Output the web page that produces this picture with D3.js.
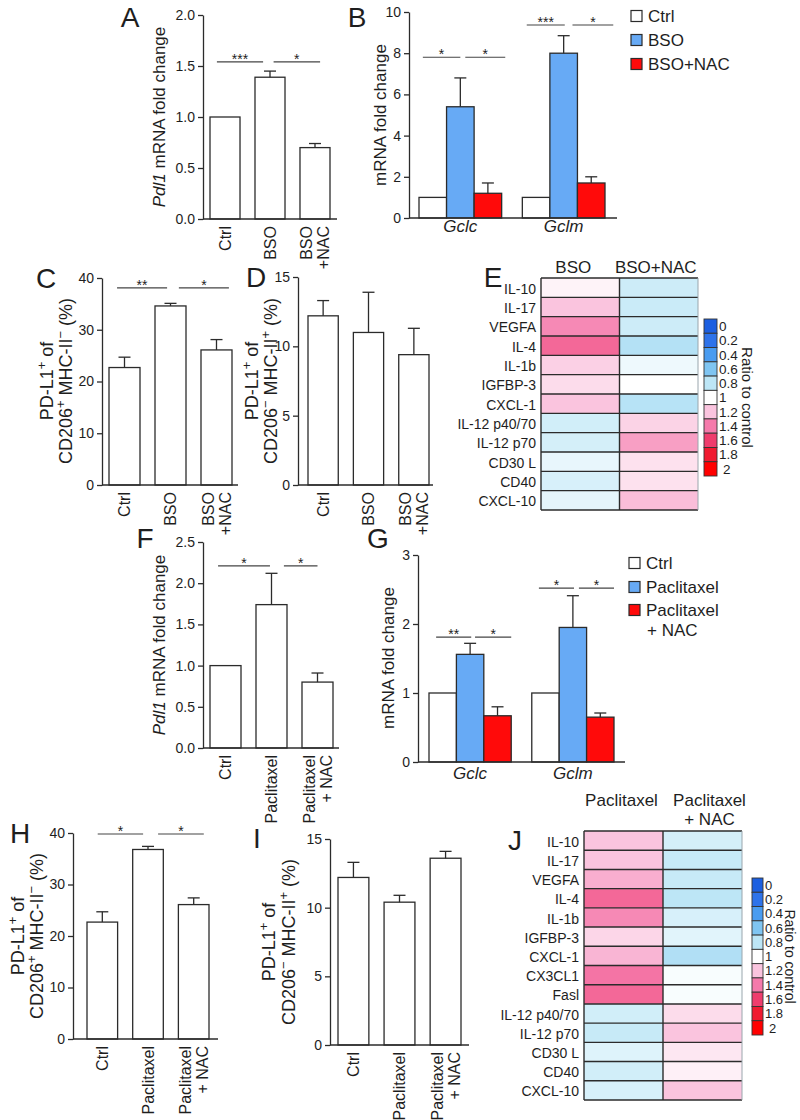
<!DOCTYPE html>
<html><head><meta charset="utf-8">
<script src="https://cdn.jsdelivr.net/npm/d3@7"></script>
<style>
body{margin:0;background:#fff}
svg{display:block}
text{font-family:"Liberation Sans",Arial,Helvetica,sans-serif;fill:#1e1e1e}
</style>
</head><body>
<svg id="fig" width="800" height="1120"></svg>
<script>
// ---------------- DATA ----------------
// Panel A
const aCats = ["Ctrl", "BSO", "BSO\n+NAC"];
const aVals = [1.0, 1.39, 0.70];
const aErrs = [0, 0.06, 0.04];
const aTicks = [0, 0.5, 1.0, 1.5, 2.0];
const aSig = [[0, 1, "***", 1.54], [1, 2, "*", 1.54]];

// Panel B
const bGenes = ["Gclc", "Gclm"];
const bGroups = ["Ctrl", "BSO", "BSO+NAC"];
const bVals = [[1.0, 5.4, 1.2], [1.0, 8.0, 1.7]];
const bErrs = [[0, 1.4, 0.5], [0, 0.85, 0.3]];
const bTicks = [0, 2, 4, 6, 8, 10];
const bSig = [[0, 0, 1, "*", 7.8], [0, 1, 2, "*", 7.8], [1, 0, 1, "***", 9.37], [1, 1, 2, "*", 9.37]];

// Panel C
const cCats = ["Ctrl", "BSO", "BSO\n+NAC"];
const cVals = [22.7, 34.6, 26.1];
const cErrs = [2.0, 0.5, 2.0];
const cTicks = [0, 10, 20, 30, 40];
const cSig = [[0, 1, "**", 38.1], [1, 2, "*", 38.1]];

// Panel D
const dCats = ["Ctrl", "BSO", "BSO\n+NAC"];
const dVals = [12.2, 11.0, 9.4];
const dErrs = [1.1, 2.9, 1.9];
const dTicks = [0, 5, 10, 15];

// Panel E
const eRows = ["IL-10", "IL-17", "VEGFA", "IL-4", "IL-1b", "IGFBP-3", "CXCL-1", "IL-12 p40/70", "IL-12 p70", "CD30 L", "CD40", "CXCL-10"];
const eCols = ["BSO", "BSO+NAC"];
const eBSO = [1.04, 1.2, 1.36, 1.46, 1.16, 1.12, 1.2, 0.86, 0.87, 0.93, 0.88, 0.92];
const eBSONAC = [0.85, 0.84, 0.85, 0.77, 0.95, 1.0, 0.78, 1.15, 1.3, 1.1, 1.1, 1.22];

// Colour bar
const scaleStops = [0, 0.2, 0.4, 0.6, 0.8, 1, 1.2, 1.4, 1.6, 1.8, 2];
const scaleLabels = ["0", "0.2", "0.4", "0.6", "0.8", "1", "1.2", "1.4", "1.6", "1.8", "2"];
const scaleColors = ["#1c5fe0", "#2e73ea", "#4a9cf0", "#7fc5f2", "#bde6f6", "#ffffff", "#fac4de", "#f57aab", "#ef3d6d", "#f01a30", "#ff0000"];

// Panel F
const fCats = ["Ctrl", "Paclitaxel", "Paclitaxel\n+ NAC"];
const fVals = [1.0, 1.74, 0.80];
const fErrs = [0, 0.38, 0.11];
const fTicks = [0, 0.5, 1.0, 1.5, 2.0, 2.5];
const fSig = [[0, 1, "*", 2.21], [1, 2, "*", 2.21]];

// Panel G
const gGenes = ["Gclc", "Gclm"];
const gGroups = ["Ctrl", "Paclitaxel", "Paclitaxel\n+ NAC"];
const gVals = [[1.0, 1.56, 0.67], [1.0, 1.95, 0.65]];
const gErrs = [[0, 0.16, 0.13], [0, 0.46, 0.06]];
const gTicks = [0, 1, 2, 3];
const gSig = [[0, 0, 1, "**", 1.81], [0, 1, 2, "*", 1.81], [1, 0, 1, "*", 2.52], [1, 1, 2, "*", 2.52]];

// Panel H
const hCats = ["Ctrl", "Paclitaxel", "Paclitaxel\n+ NAC"];
const hVals = [22.7, 36.8, 26.1];
const hErrs = [2.0, 0.6, 1.3];
const hTicks = [0, 10, 20, 30, 40];
const hSig = [[0, 1, "*", 39.8], [1, 2, "*", 39.8]];

// Panel I
const iCats = ["Ctrl", "Paclitaxel", "Paclitaxel\n+ NAC"];
const iVals = [12.2, 10.4, 13.6];
const iErrs = [1.1, 0.5, 0.5];
const iTicks = [0, 5, 10, 15];

// Panel J
const jRows = ["IL-10", "IL-17", "VEGFA", "IL-4", "IL-1b", "IGFBP-3", "CXCL-1", "CX3CL1", "Fasl", "IL-12 p40/70", "IL-12 p70", "CD30 L", "CD40", "CXCL-10"];
const jCols = ["Paclitaxel", "Paclitaxel\n+ NAC"];
const jPac = [1.2, 1.2, 1.26, 1.46, 1.36, 1.14, 1.24, 1.42, 1.46, 0.86, 0.83, 0.9, 0.86, 0.88];
const jPacNAC = [0.87, 0.83, 0.83, 0.8, 0.88, 0.91, 0.76, 0.98, 0.98, 1.12, 1.2, 1.08, 1.05, 1.2];

// ---------------- DRAWING ----------------
const svg = d3.select("#fig");
const INK = "#2b2b2b";
const BLUE = "#67aaf5";
const RED = "#ff0a0a";
const barFill = ["#ffffff", BLUE, RED];
const heatColor = d3.scaleLinear().domain(scaleStops).range(scaleColors).clamp(true);

function rich(text, parts, size) {
  let shifted = 0;
  parts.forEach(p => {
    const ts = text.append("tspan").text(p.t);
    if (p.it) ts.attr("font-style", "italic");
    if (p.sup) {
      ts.attr("font-size", size * 0.72);
      const d = -size * 0.42 - shifted;
      if (d) ts.attr("dy", d);
      shifted = -size * 0.42;
    } else if (shifted) {
      ts.attr("dy", -shifted);
      shifted = 0;
    }
  });
}

function vLabel(x, yc, parts, size, rot = -90) {
  const t = svg.append("text")
    .attr("transform", `translate(${x},${yc}) rotate(${rot})`)
    .attr("text-anchor", "middle").attr("dy", "0.35em")
    .attr("font-size", size);
  rich(t, parts, size);
}

function panelLetter(ch, x, y) {
  svg.append("text").attr("x", x).attr("y", y).attr("text-anchor", "middle")
    .attr("font-size", 28).text(ch);
}

function yAxis(y, x, ticks, fmt) {
  const ax = svg.append("g").attr("transform", `translate(${x},0)`)
    .call(d3.axisLeft(y).tickValues(ticks).tickFormat(fmt).tickSize(5).tickSizeOuter(0).tickPadding(3));
  ax.attr("font-family", null).attr("font-size", null);
  ax.select(".domain").attr("stroke", INK).attr("stroke-width", 1.3);
  ax.selectAll(".tick line").attr("stroke", INK).attr("stroke-width", 1.3);
  ax.selectAll(".tick text").attr("font-size", 14).attr("fill", "#222");
}

function xBase(y0, x0, x1) {
  svg.append("line").attr("x1", x0).attr("x2", x1).attr("y1", y0).attr("y2", y0)
    .attr("stroke", INK).attr("stroke-width", 1.3);
}

function catLabels(xs, cats, yTop, lh, size) {
  cats.forEach((c, i) => {
    const lines = c.split("\n");
    const t = svg.append("text")
      .attr("transform", `translate(${xs[i]},${yTop}) rotate(-90)`)
      .attr("text-anchor", "end").attr("font-size", size);
    lines.forEach((ln, k) => t.append("tspan").attr("x", 0)
      .attr("y", (k - (lines.length - 1) / 2) * lh).attr("dy", "0.35em").text(ln));
  });
}

function bars(g, data, y, fill) {
  g.selectAll(null).data(data).join("rect")
    .attr("x", d => d.x).attr("width", d => d.w)
    .attr("y", d => y(d.v)).attr("height", d => y(0) - y(d.v))
    .attr("fill", (d, i) => fill(d, i)).attr("stroke", INK).attr("stroke-width", 1.3);
  const eb = data.filter(d => d.e > 0);
  g.selectAll(null).data(eb).join("line")
    .attr("x1", d => d.x + d.w / 2).attr("x2", d => d.x + d.w / 2)
    .attr("y1", d => y(d.v)).attr("y2", d => y(d.v + d.e))
    .attr("stroke", INK).attr("stroke-width", 1.3);
  g.selectAll(null).data(eb).join("line")
    .attr("x1", d => d.x + d.w / 2 - 6).attr("x2", d => d.x + d.w / 2 + 6)
    .attr("y1", d => y(d.v + d.e)).attr("y2", d => y(d.v + d.e))
    .attr("stroke", INK).attr("stroke-width", 1.3);
}

function sigMark(x1, x2, yy, label) {
  svg.append("line").attr("x1", x1).attr("x2", x2).attr("y1", yy).attr("y2", yy)
    .attr("stroke", "#444").attr("stroke-width", 1.1);
  svg.append("text").attr("x", (x1 + x2) / 2).attr("y", yy + 2)
    .attr("text-anchor", "middle").attr("font-size", 14).text(label);
}

function simpleBar(L, cats, vals, errs, ticks, fmt, sig) {
  const y = d3.scaleLinear().domain(L.domain).range([L.yBot, L.yTop]);
  const x = d3.scaleBand().domain(cats).range(L.bars).paddingInner(L.pad).paddingOuter(0);
  const g = svg.append("g");
  const data = cats.map((c, i) => ({ x: x(c), w: x.bandwidth(), v: vals[i], e: errs[i] }));
  bars(g, data, y, () => "#fff");
  yAxis(y, L.axisX, ticks, fmt);
  xBase(L.yBot, L.axisX, L.axisEnd);
  const cx = cats.map(c => x(c) + x.bandwidth() / 2);
  catLabels(cx, cats, L.yBot + 7, 17, 16);
  if (sig) {
    const bw = x.bandwidth();
    sig.forEach((s, k) => {
      const ins = L.sigInset[k];
      sigMark(cx[s[0]] + ins[0] * bw, cx[s[1]] + ins[1] * bw, y(s[3]), s[2]);
    });
  }
  return { x, y };
}

function groupedBar(L, genes, groups, vals, errs, ticks, sig) {
  const y = d3.scaleLinear().domain(L.domain).range([L.yBot, L.yTop]);
  const x0 = d3.scaleBand().domain(genes).range(L.bars).paddingInner(L.pad).paddingOuter(0);
  const x1 = d3.scaleBand().domain(groups).range([0, x0.bandwidth()]);
  const g = svg.append("g");
  const data = [];
  genes.forEach((gn, gi) => groups.forEach((gr, k) => data.push({
    x: x0(gn) + x1(gr), w: x1.bandwidth(), v: vals[gi][k], e: errs[gi][k], k
  })));
  bars(g, data, y, d => barFill[d.k]);
  yAxis(y, L.axisX, ticks, d3.format("d"));
  xBase(L.yBot, L.axisX, L.axisEnd);
  genes.forEach(gn => svg.append("text").attr("x", x0(gn) + x0.bandwidth() / 2).attr("y", L.geneY)
    .attr("text-anchor", "middle").attr("font-size", 17).attr("font-style", "italic").text(gn));
  const bw = x1.bandwidth();
  sig.forEach(s => {
    const c = k => x0(genes[s[0]]) + x1(groups[k]) + bw / 2;
    const ins = L.sigInset[s[1]][s[0]];
    sigMark(c(s[1]) + ins[0] * bw, c(s[2]) + ins[1] * bw, y(s[4]), s[3]);
  });
  groups.forEach((gr, k) => {
    svg.append("rect").attr("x", L.legX).attr("y", L.legY[k] - 5.5).attr("width", 11).attr("height", 11)
      .attr("fill", barFill[k]).attr("stroke", INK).attr("stroke-width", 1.2);
    const lines = gr.split("\n");
    lines.forEach((ln, li) => svg.append("text").attr("x", L.legX + 17 + (li ? 1 : 0))
      .attr("y", L.legY[k] + li * 20).attr("dy", "0.35em").attr("font-size", 17).text(ln));
  });
}

function heatmap(L, rows, cols, vals) {
  const x = d3.scaleBand().domain(cols).range([L.x0, L.x1]);
  const y = d3.scaleBand().domain(rows).range([L.y0, L.y1]);
  const g = svg.append("g");
  cols.forEach((col, ci) => {
    g.selectAll(null).data(rows).join("rect")
      .attr("x", x(col)).attr("y", r => y(r)).attr("width", x.bandwidth()).attr("height", y.bandwidth())
      .attr("fill", (r, ri) => heatColor(vals[ci][ri]));
  });
  rows.concat([null]).forEach(r => {
    const yy = r === null ? L.y1 : y(r);
    g.append("line").attr("x1", L.x0).attr("x2", L.x1).attr("y1", yy).attr("y2", yy)
      .attr("stroke", INK).attr("stroke-width", 1.4);
  });
  cols.forEach(col => g.append("line").attr("x1", x(col)).attr("x2", x(col)).attr("y1", L.y0).attr("y2", L.y1)
    .attr("stroke", INK).attr("stroke-width", 1.4));
  g.append("line").attr("x1", L.x1).attr("x2", L.x1).attr("y1", L.y0).attr("y2", L.y1)
    .attr("stroke", "#9aa6ad").attr("stroke-width", 1);
  rows.forEach(r => svg.append("text").attr("x", x(cols[0]) - 5).attr("y", y(r) + y.bandwidth() / 2 + 1)
    .attr("dy", "0.36em").attr("text-anchor", "end").attr("font-size", 14).text(r));
  cols.forEach((col, ci) => {
    const lines = col.split("\n");
    lines.forEach((ln, li) => svg.append("text").attr("x", x(col) + x.bandwidth() / 2 + L.headDx[ci])
      .attr("y", L.headY + li * 19).attr("text-anchor", "middle").attr("font-size", 17).text(ln));
  });
  const cb = d3.scaleBand().domain(scaleStops).range([L.cbY0, L.cbY1]);
  svg.selectAll(null).data(scaleStops).join("rect")
    .attr("x", L.cbX).attr("y", d => cb(d)).attr("width", L.cbW).attr("height", cb.bandwidth())
    .attr("fill", d => heatColor(d)).attr("stroke", "#333").attr("stroke-width", 0.9);
  scaleStops.forEach((s, i) => svg.append("text")
    .attr("x", L.cbX + L.cbW + 2 + (i === scaleStops.length - 1 ? 4 : 0))
    .attr("y", cb(s) + cb.bandwidth() / 2).attr("dy", "0.36em").attr("font-size", L.cbFont).text(scaleLabels[i]));
  vLabel(L.cbLabX, (L.cbY0 + L.cbY1) / 2, [{ t: "Ratio to control" }], L.cbLabFont, 90);
}

// ---------- Panel A ----------
simpleBar({ domain: [0, 2], yTop: 15, yBot: 219, bars: [210, 330], pad: 0.333, axisX: 203, axisEnd: 337,
  sigInset: [[-0.27, -0.23], [0.12, 0.17]] }, aCats, aVals, aErrs, aTicks, d3.format(".1f"), aSig);
vLabel(159, 117, [{ t: "Pdl1", it: true }, { t: " mRNA fold change" }], 17);
panelLetter("A", 130, 27);

// ---------- Panel B ----------
groupedBar({ domain: [0, 10], yTop: 12, yBot: 218, bars: [419, 605], pad: 0.2, axisX: 409, axisEnd: 617, geneY: 232,
  sigInset: [[[-0.36, 0.0], [-0.34, 0.04]], [[0.18, 0.63], [0.32, 0.8]]],
  legX: 631, legY: [16, 40, 64] }, bGenes, bGroups, bVals, bErrs, bTicks, bSig);
vLabel(380, 115, [{ t: "mRNA fold change" }], 17);
panelLetter("B", 357, 27);

// ---------- Panel C ----------
simpleBar({ domain: [0, 40], yTop: 278, yBot: 485, bars: [109, 232], pad: 0.326, axisX: 102, axisEnd: 238,
  sigInset: [[-0.24, -0.11], [0.27, 0.4]] }, cCats, cVals, cErrs, cTicks, d3.format("d"), cSig);
vLabel(47, 381, [{ t: "PD-L1" }, { t: "+", sup: true }, { t: " of" }], 18);
vLabel(66, 381, [{ t: "CD206" }, { t: "+", sup: true }, { t: " MHC-II" }, { t: "\u2212", sup: true }, { t: " (%)" }], 18);
panelLetter("C", 46, 288);

// ---------- Panel D ----------
simpleBar({ domain: [0, 15], yTop: 277, yBot: 485, bars: [308, 429], pad: 0.333, axisX: 298, axisEnd: 433 },
  dCats, dVals, dErrs, dTicks, d3.format("d"), null);
vLabel(252, 381, [{ t: "PD-L1" }, { t: "+", sup: true }, { t: " of" }], 18);
vLabel(271, 381, [{ t: "CD206" }, { t: "\u2212", sup: true }, { t: " MHC-II" }, { t: "+", sup: true }, { t: " (%)" }], 18);
panelLetter("D", 256, 287);

// ---------- Panel E ----------
heatmap({ x0: 541, x1: 698, y0: 278, y1: 510, headY: 273, headDx: [-7, -3],
  cbX: 704, cbW: 13, cbY0: 319, cbY1: 476, cbLabX: 747, cbFont: 13.5, cbLabFont: 15 },
  eRows, eCols, [eBSO, eBSONAC]);
panelLetter("E", 493, 287);

// ---------- Panel F ----------
simpleBar({ domain: [0, 2.5], yTop: 542, yBot: 748, bars: [210, 333], pad: 0.326, axisX: 203, axisEnd: 339,
  sigInset: [[-0.24, -0.05], [0.4, 0.0]] }, fCats, fVals, fErrs, fTicks, d3.format(".1f"), fSig);
vLabel(159, 645, [{ t: "Pdl1", it: true }, { t: " mRNA fold change" }], 17);
panelLetter("F", 145, 548);

// ---------- Panel G ----------
groupedBar({ domain: [0, 3], yTop: 555, yBot: 762, bars: [429, 614], pad: 0.2, axisX: 418, axisEnd: 625, geneY: 779,
  sigInset: [[[-0.24, 0.04], [-0.24, 0.04]], [[0.18, 0.5], [0.22, 0.5]]],
  legX: 629, legY: [563, 587, 610] }, gGenes, gGroups, gVals, gErrs, gTicks, gSig);
vLabel(388, 658, [{ t: "mRNA fold change" }], 17);
panelLetter("G", 378, 548);

// ---------- Panel H ----------
simpleBar({ domain: [0, 40], yTop: 833, yBot: 1039, bars: [87, 209], pad: 0.33, axisX: 73, axisEnd: 218,
  sigInset: [[-0.15, -0.16], [0.33, 0.33]] }, hCats, hVals, hErrs, hTicks, d3.format("d"), hSig);
vLabel(18, 936, [{ t: "PD-L1" }, { t: "+", sup: true }, { t: " of" }], 18);
vLabel(37, 936, [{ t: "CD206" }, { t: "+", sup: true }, { t: " MHC-II" }, { t: "\u2212", sup: true }, { t: " (%)" }], 18);
panelLetter("H", 20, 843);

// ---------- Panel I ----------
simpleBar({ domain: [0, 15], yTop: 839, yBot: 1045, bars: [338, 461], pad: 0.33, axisX: 330, axisEnd: 469 },
  iCats, iVals, iErrs, iTicks, d3.format("d"), null);
vLabel(269, 942, [{ t: "PD-L1" }, { t: "+", sup: true }, { t: " of" }], 18);
vLabel(289, 942, [{ t: "CD206" }, { t: "\u2212", sup: true }, { t: " MHC-II" }, { t: "+", sup: true }, { t: " (%)" }], 18);
panelLetter("I", 257, 848);

// ---------- Panel J ----------
heatmap({ x0: 584, x1: 742, y0: 831, y1: 1100, headY: 806, headDx: [-2, 7],
  cbX: 752, cbW: 11, cbY0: 878, cbY1: 1035, cbLabX: 790, cbFont: 13, cbLabFont: 14 },
  jRows, jCols, [jPac, jPacNAC]);
panelLetter("J", 515, 850);
</script>
</body></html>
